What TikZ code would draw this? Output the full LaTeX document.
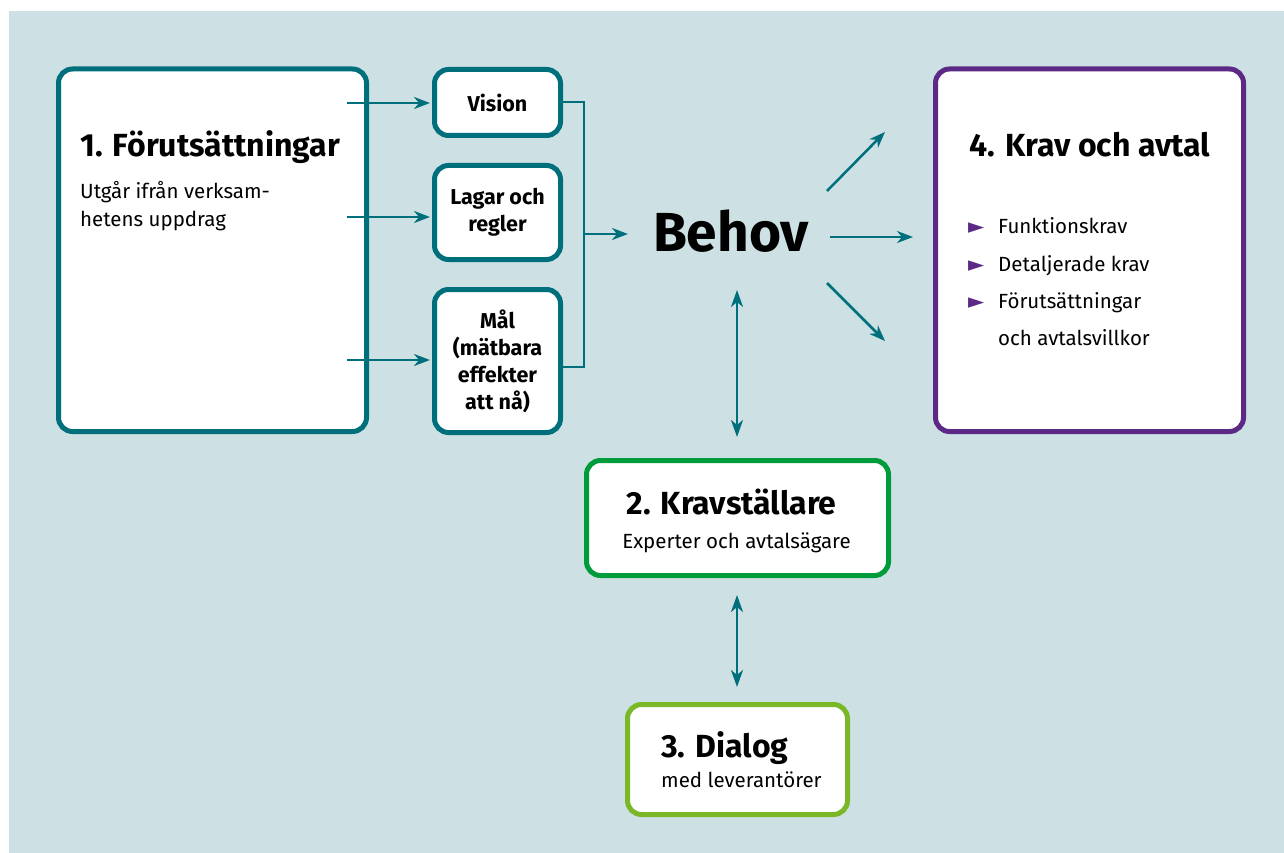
\documentclass[tikz,border=0pt]{standalone}
\usepackage{fontspec}
\setmainfont{Fira Sans}
\newfontfamily\symfont{DejaVu Sans}
\usetikzlibrary{arrows.meta}
\definecolor{bg}{HTML}{CDE1E4}
\definecolor{teal}{HTML}{006F7C}
\definecolor{purp}{HTML}{5C2A86}
\definecolor{grn}{HTML}{009C3C}
\definecolor{lgrn}{HTML}{7AB828}
\tikzset{
  box/.style={draw=#1, fill=white, line width=5pt, rounded corners=14pt, inner sep=0pt, outer sep=0pt},
  small/.style={box=teal, minimum width=126pt, font=\bfseries\fontsize{21.5}{27}\selectfont, align=center},
  arr/.style={draw=teal, line width=2.5pt, -{Stealth[length=16pt,width=12pt,inset=5pt]}},
  darr/.style={draw=teal, line width=2.5pt, {Stealth[length=17pt,width=12pt,inset=5pt]}-{Stealth[length=17pt,width=12pt,inset=5pt]}},
  bracket/.style={draw=teal, line width=2pt},
  title/.style={font=\bfseries\fontsize{32}{36}\selectfont, anchor=base west, inner sep=0pt},
  sub/.style={font=\fontsize{20.5}{28}\selectfont, anchor=base west, inner sep=0pt},
  bul/.style={font=\symfont\fontsize{21}{21}\selectfont, text=purp, anchor=base west, inner sep=0pt},
}
\begin{document}
\begin{tikzpicture}[x=1pt,y=-1pt]
\useasboundingbox (0,0) rectangle (1284,853);
\fill[white] (0,0) rectangle (1284,853);
\fill[bg] (9,11) rectangle (1284,853);
% boxes
\node[box=teal, minimum width=308pt, minimum height=362.5pt] (b1) at (212.5,250.25) {};
\node[small, minimum height=66pt] (vision) at (497.5,102.5) {Vision};
\node[small, minimum height=94pt] (lagar) at (497.5,212.5) {Lagar och\\regler};
\node[small, minimum height=143pt] (mal) at (497.5,361) {Mål\\(mätbara\\effekter\\att nå)};
\node[box=purp, minimum width=308pt, minimum height=362.5pt] (b4) at (1089.5,250.25) {};
\node[box=grn, minimum width=302pt, minimum height=115pt] (b2) at (737.5,518) {};
\node[box=lgrn, minimum width=220pt, minimum height=110pt] (b3) at (737.5,759.5) {};
% texts
\node[title] (t1) at (80,157) {1. Förutsättningar};
\node[sub] (s1a) at (80,198) {Utgår ifrån verksam-};
\node[sub] (s1b) at (80,226) {hetens uppdrag};
\node[font=\bfseries\fontsize{55}{60}\selectfont, anchor=base, inner sep=0pt] (behov) at (731,251) {Behov};
\node[title] (t4) at (969,157) {4. Krav och avtal};
\foreach \y/\t [count=\i] in {233/Funktionskrav,271/Detaljerade krav,308/Förutsättningar} {
  \node[bul] (bu\i) at (968,\y) {►};
  \node[sub] (li\i) at (998,\y) {\t};
}
\node[sub] (li4) at (998,345) {och avtalsvillkor};
\node[title, anchor=base] (t2) at (731.5,514) {2. Kravställare};
\node[sub, anchor=base] (s2) at (736.5,548) {Experter och avtalsägare};
\node[title] (t3) at (661,757) {3. Dialog};
\node[sub] (s3) at (661,787) {med leverantörer};
% arrows from box 1
\coordinate (a1) at (347,103);
\coordinate (a2) at (347,217);
\coordinate (a3) at (347,360);
\draw[arr, shorten >=4.5pt] (a1) -- (a1 -| vision.west);
\draw[arr, shorten >=4.5pt] (a2) -- (a2 -| lagar.west);
\draw[arr, shorten >=4.5pt] (a3) -- (a3 -| mal.west);
% bracket
\coordinate (jn) at (584,234);
\coordinate (btop) at (584,102.5);
\coordinate (bbot) at (584,367);
\draw[bracket] (vision.east) -- (btop) -- (bbot) -- (bbot -| mal.east);
\coordinate (je) at (628,234);
\draw[arr] (jn) -- (je);
% arrows from Behov
\coordinate (o1s) at (827,191); \coordinate (o1e) at (885,132);
\coordinate (o2s) at (830,237); \coordinate (o2e) at (913,237);
\coordinate (o3s) at (827,283); \coordinate (o3e) at (885,341);
\draw[arr] (o1s) -- (o1e);
\draw[arr] (o2s) -- (o2e);
\draw[arr] (o3s) -- (o3e);
% vertical double arrows
\coordinate (bs) at (737,290);
\coordinate (k2n) at (737,437);
\draw[darr] (bs) -- (k2n);
\draw[darr, shorten <=19.5pt, shorten >=17.5pt] (b2.south -| bs) -- (b3.north -| bs);
\end{tikzpicture}
\end{document}
